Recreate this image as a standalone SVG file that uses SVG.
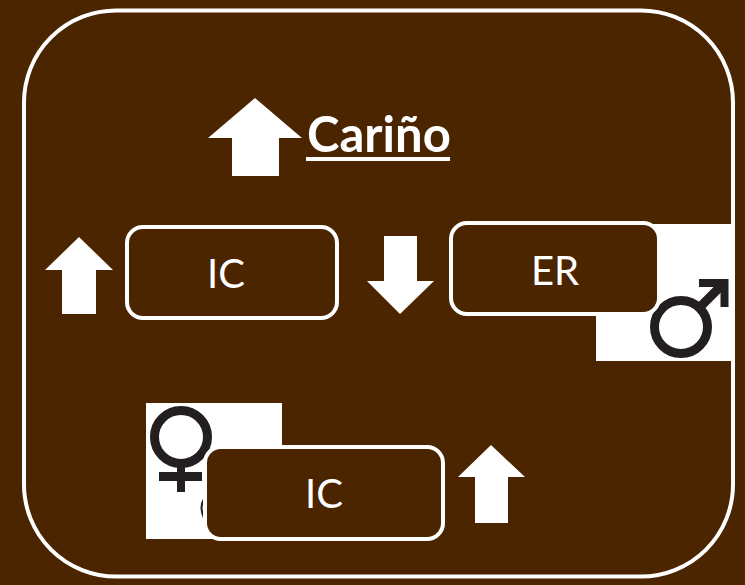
<svg xmlns="http://www.w3.org/2000/svg" width="745" height="585" viewBox="0 0 745 585">
<defs><style>
.box{fill:#4a2500;stroke:#fff;stroke-width:4}
.arrow{fill:#fff}
.white{fill:#fff}
.sym{fill:none;stroke:#231f20;stroke-width:9}
.symf{fill:#231f20}
text{font-family:"Lato","Open Sans","Liberation Sans",sans-serif;fill:#fff}
.lbl{font-size:40px;text-anchor:middle}
</style></defs>
<rect width="745" height="585" fill="#4a2500"/>
<rect id="frame" x="24" y="10.500" width="709" height="566" rx="92" fill="#4a2500" stroke="#fff" stroke-width="4"/>
<g id="male-symbol">
<rect class="white" x="596" y="224" width="137" height="137"/>
<circle class="sym" cx="681" cy="327" r="26.500"/>
<path class="sym" d="M699 308L722 285"/>
<path class="symf" d="M699 279H728.500V307H720.500V287H699Z"/>
</g>
<g id="female-symbol">
<rect class="white" x="146" y="403" width="136" height="136"/>
<circle class="sym" cx="181" cy="437" r="26.500"/>
<path class="symf" d="M177 464H185V472H202V481H185V492H177V481H159V472H177Z"/>
<path d="M204 499Q199 507 204 518" fill="none" stroke="#231f20" stroke-width="2"/>
</g>
<g id="connectors">
<path id="arrow-carino" class="arrow" d="M255 98L302 138H279V176H232V138H208Z"/>
<path id="arrow-ic-left" class="arrow" d="M79 237L113 270H96V314H62V270H45Z"/>
<path id="arrow-down" class="arrow" d="M384 236H417V281H434L400 314L367 281H384Z"/>
<path id="arrow-ic-bottom" class="arrow" d="M491 445L525 477H508V523H475V477H458Z"/>
</g>
<g id="carino">
<text x="307" y="152" font-size="49" font-weight="700">Cariño</text>
<rect class="white" x="306" y="157" width="144" height="4"/>
</g>
<g id="node-ic-top">
<rect class="box" x="127" y="227" width="210" height="91" rx="16"/>
<text class="lbl" x="226" y="288">IC</text>
</g>
<g id="node-er">
<rect class="box" x="451" y="223" width="208" height="91" rx="16"/>
<text class="lbl" x="555" y="285">ER</text>
</g>
<g id="node-ic-bottom">
<rect class="box" x="205" y="447" width="238" height="92" rx="16"/>
<text class="lbl" x="324" y="508">IC</text>
</g>
</svg>
